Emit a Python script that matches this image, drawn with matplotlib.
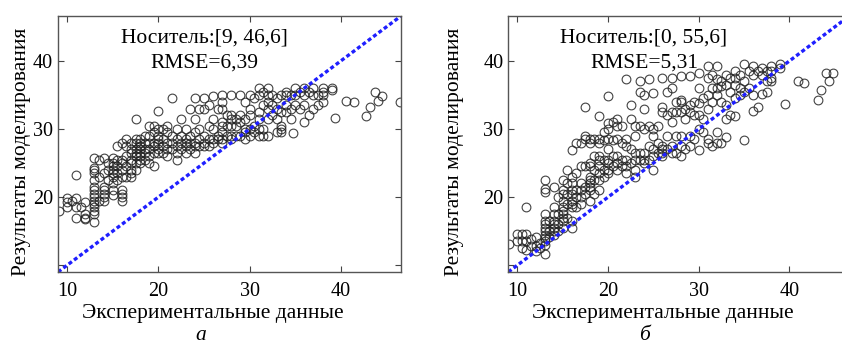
import matplotlib
matplotlib.use('Agg')
import matplotlib.pyplot as plt

plt.rcParams.update({'font.family': 'Liberation Serif', 'mathtext.fontset': 'custom'})

# (experimental value, [model values]) for panel a
a_points = [
    (9.1, [17.9]), (10, [18.5, 19.8, 19.3]), (10.5, [19.5]),
    (11, [23.3, 19.8, 18.5, 17.0]), (11.5, [18.5]), (12, [19.3, 17.5, 17.0, 16.8]),
    (13, [25.8, 24.3, 24.0, 23.5, 22.5, 21.5, 21.0, 20.5, 20.0, 19.5, 19.0, 18.5, 18.0, 17.5, 16.3]),
    (13.5, [25.5, 23.0, 19.5]), (14, [25.8, 23.5, 21.5, 21.0, 20.5, 20.0, 19.5]),
    (14.5, [24.0, 22.5, 25.0]), (15, [25.8, 25.0, 24.5, 24.0, 23.5, 23.0, 22.0, 21.0, 20.3]),
    (15.5, [27.5, 25.5, 24.5, 23.5, 22.5]), (16, [28.0, 25.5, 25.0, 24.0, 23.0, 21.0, 20.5, 20.0, 19.5]),
    (16.5, [28.5, 27.5, 26.0, 24.5, 23.0]), (17, [28.0, 27.0, 26.5, 25.5, 25.0, 24.0, 23.5, 23.0]),
    (17.5, [31.5, 28.5, 28.0, 27.0, 26.5, 26.0, 25.0, 24.0]),
    (18, [28.5, 28.0, 27.5, 27.0, 26.5, 26.0, 25.5, 25.0]), (18.5, [29.0, 28.0, 27.0, 26.5, 25.5]),
    (19, [30.5, 29.0, 28.0, 27.0, 26.0, 25.0]), (19.5, [30.5, 29.5, 28.0, 27.5, 26.5, 24.5]),
    (20, [32.6, 30.0, 29.0, 28.5, 28.0, 27.0, 26.5]), (20.5, [30.0, 28.5, 27.5, 26.5]),
    (21, [30.5, 29.5, 28.0, 27.0, 26.0]), (21.5, [34.6, 29.0, 28.0, 27.0]),
    (22, [30.0, 28.5, 27.5, 26.5, 25.5]), (22.5, [31.5, 29.0, 28.0, 27.0]),
    (23, [30.0, 28.5, 28.0, 27.5, 26.5]), (23.5, [33.0, 29.0, 28.0, 27.0]),
    (24, [34.5, 31.5, 29.5, 28.0, 27.5, 26.5]), (24.5, [33.0, 30.0, 28.5, 27.5]),
    (25, [34.5, 33.0, 29.0, 28.0, 27.5]), (25.5, [33.5, 30.5, 28.5, 27.5]),
    (26, [34.8, 31.5, 30.0, 28.5, 28.0]), (26.5, [33.0, 29.0, 28.5]),
    (27, [35.0, 34.0, 33.0, 31.0, 30.5, 29.5, 28.5, 28.0]), (27.5, [32.0, 30.5, 29.0]),
    (28, [35.0, 32.0, 31.5, 30.5, 29.0, 28.5]), (28.5, [31.5, 30.5, 29.0]),
    (29, [35.0, 32.0, 31.0, 29.0]), (29.5, [34.0, 31.5, 30.0, 29.5, 28.5]),
    (30, [35.0, 33.0, 32.0, 30.0, 29.0]), (30.5, [34.5, 30.5, 29.5]),
    (31, [36.0, 35.0, 32.5, 31.5, 30.0, 29.0]), (31.5, [35.5, 33.5, 30.0, 29.0]),
    (32, [36.0, 35.0, 34.0, 33.0, 31.5, 29.0]), (32.5, [35.0, 33.5, 32.0]),
    (33, [34.5, 33.0, 31.5, 29.5]), (33.5, [35.0, 32.5, 30.5, 29.5, 30.0]),
    (34, [35.5, 35.0, 33.5, 32.5]), (34.5, [35.0, 33.0, 31.5]),
    (34.8, [29.4]), (35, [36.0, 35.0, 33.5]), (35.5, [35.5, 33.0]),
    (36, [36.0, 35.0, 33.5, 31.0]), (36.5, [35.5, 32.0]), (37, [36.0, 35.0, 33.0]),
    (37.5, [35.0, 33.5]), (38, [36.0, 35.5, 35.0, 34.0]), (39, [36.0, 35.8]),
    (39.4, [31.6]), (40.6, [34.1]), (41.4, [33.9]), (42.8, [31.9]), (43.2, [33.3]),
    (43.7, [35.4]), (44.1, [34.1]), (44.5, [34.8]), (46.5, [34.0]),
]

# (experimental value, [model values]) for panel b
b_points = [
    (9.1, [13.1]), (10, [14.6, 13.6]), (10.5, [14.6, 13.6, 12.5]),
    (11, [18.5, 14.6, 13.6, 12.3]), (11.5, [13.8, 12.8]), (12, [14.1, 12.8, 12.1]),
    (12.5, [13.2, 12.5]),
    (13, [22.5, 21.2, 20.8, 17.5, 16.5, 16.0, 15.5, 15.0, 14.5, 14.0, 13.5, 13.0, 11.6]),
    (13.5, [16.5, 15.0, 14.2]), (14, [21.5, 18.5, 17.5, 16.5, 16.0, 15.5, 15.0, 14.5]),
    (14.5, [20.0, 17.5, 16.0, 15.0]),
    (15, [22.5, 21.0, 20.5, 19.5, 18.5, 18.0, 17.5, 17.0, 16.5, 15.5]),
    (15.5, [24.0, 22.0, 20.5, 19.0, 17.0]),
    (16, [26.9, 23.0, 22.0, 21.0, 20.5, 19.5, 19.0, 18.5, 16.5, 15.5]),
    (16.5, [28.0, 23.5, 21.0, 20.0, 18.5]), (17, [28.0, 24.5, 22.0, 21.0, 20.0, 19.0]),
    (17.5, [33.3, 29.0, 28.5, 24.5, 21.5, 20.5]),
    (18, [28.5, 28.0, 25.0, 24.5, 23.0, 22.5, 22.0, 21.5, 21.0, 19.5]),
    (18.5, [28.5, 26.0, 24.0, 22.5, 20.5]),
    (19, [31.9, 28.5, 28.0, 26.0, 25.5, 24.5, 23.5, 22.5, 21.0]),
    (19.5, [29.5, 28.4, 25.5, 24.0, 23.0]),
    (20, [34.8, 30.9, 30.0, 28.5, 27.0, 25.5, 25.0, 24.0, 23.5]),
    (20.5, [31.0, 28.4, 26.0, 24.5]), (21, [31.5, 30.5, 28.5, 26.0, 25.0, 24.0]),
    (21.5, [30.5, 28.0, 25.5, 24.5]), (22, [37.3, 28.5, 27.5, 25.5, 24.5, 23.5]),
    (22.5, [33.5, 31.4, 27.0, 25.0]), (23, [30.4, 29.0, 26.5, 25.5, 24.0, 23.0]),
    (23.5, [37.0, 35.5, 30.5, 26.5, 25.5]), (24, [35.0, 33.0, 30.0, 26.5, 25.5, 25.0]),
    (24.5, [37.3, 30.5, 27.5, 25.5]), (25, [35.3, 30.0, 29.0, 27.0, 26.0, 24.0]),
    (25.5, [30.5, 28.0, 26.5]), (26, [37.5, 33.3, 32.5, 27.5, 27.0, 26.5, 26.0]),
    (26.5, [35.5, 32.0, 29.0, 27.0]), (27, [37.5, 36.0, 32.5, 31.0, 27.5, 26.5]),
    (27.5, [34.0, 32.5, 29.0, 26.5]), (28, [37.8, 34.3, 34.0, 32.5, 29.0, 27.5, 26.0]),
    (28.5, [33.0, 31.5, 27.0]), (29, [37.8, 33.5, 32.5, 29.0, 27.5]),
    (29.5, [34.0, 32.0, 28.5]), (30, [38.3, 36.0, 33.8, 32.0, 30.0, 26.9]),
    (30.5, [34.5, 31.5, 29.5]), (31, [39.3, 37.5, 35.0, 33.0, 28.5, 27.9]),
    (31.5, [38.0, 36.0, 34.0, 27.5]), (32, [39.3, 37.3, 36.0, 35.0, 29.5, 27.9]),
    (32.5, [37.0, 36.3, 34.0, 28.0]), (33, [38.0, 36.5, 33.5, 31.5, 28.9]),
    (33.5, [37.5, 35.5, 32.0]), (34, [38.5, 37.5, 36.5, 34.5, 31.9]),
    (34.5, [38.0, 36.0, 35.0]), (35, [39.5, 37.0, 35.5, 28.4]), (35.5, [38.5, 36.0]),
    (36, [39.3, 38.0, 35.0, 32.6]), (36.5, [38.5, 33.3]), (37, [39.0, 38.0, 35.1]),
    (37.5, [38.5, 37.0, 35.5]), (38, [39.3, 38.5, 37.5, 37.0]), (39, [39.5, 39.0]),
    (39.5, [33.7]), (40.9, [37.0]), (41.6, [36.8]), (43.1, [34.2]), (43.5, [35.7]),
    (44.0, [38.2]), (44.4, [37.0]), (44.8, [38.2]),
]

support = [9, 46.6]
texts_support = ['Носитель:[9, 46,6]', 'Носитель:[0, 55,6]']
texts_rmse = ['RMSE=6,39', 'RMSE=5,31']
captions = ['а', 'б']
ticks = [10, 20, 30, 40]
yticklabels = ['', '20', '30', '40']

fig = plt.figure(figsize=(8.42, 3.47), dpi=100)
ax_a = fig.add_axes([58/842, 75/347, 343/842, 256/347])
ax_b = fig.add_axes([508.3/842, 75/347, 341/842, 256/347])
txt_x = [0.427, 0.398]
ylab_x = [-0.105, -0.158]
cap_x = [201/842, 644/842]

for i, (ax, pts) in enumerate([(ax_a, a_points), (ax_b, b_points)]):
    xs = [x for x, ys in pts for _ in ys]
    ys = [y for _, yy in pts for y in yy]
    ax.plot(xs, ys, 'o', ms=6.3, mfc='none', mec='#222222', mew=0.8, alpha=0.85)
    ax.plot(support, support, color='#1f1fff', lw=2.4, ls=(0, (1.2, 0.8)))
    ax.set_xlim(support)
    ax.set_ylim(support)
    ax.set_xticks(ticks)
    ax.set_yticks(ticks)
    ax.set_yticklabels(yticklabels)
    ax.tick_params(direction='in', top=True, right=True, labelsize=14.5, length=4, color='#444444')
    ax.tick_params(axis='x', pad=7)
    for s in ax.spines.values():
        s.set_color('#555555')
        s.set_linewidth(1.0)
    ax.set_xlabel('Экспериментальные данные', fontsize=15.5)
    ax.xaxis.label.set_va('center')
    ax.xaxis.set_label_coords(0.45 if i == 0 else 0.452, -0.164)
    ax.set_ylabel('Результаты моделирования', fontsize=15.5)
    ax.yaxis.label.set_va('center')
    ax.yaxis.set_label_coords(ylab_x[i], 0.47)
    ax.text(txt_x[i], 0.914, texts_support[i], transform=ax.transAxes, ha='center', va='center', fontsize=15.5)
    ax.text(txt_x[i], 0.816, texts_rmse[i], transform=ax.transAxes, ha='center', va='center', fontsize=15.5)
    fig.text(cap_x[i], 0.034, captions[i], ha='center', va='center', fontsize=15.5, style='italic')

fig.savefig('out.png', dpi=100)
